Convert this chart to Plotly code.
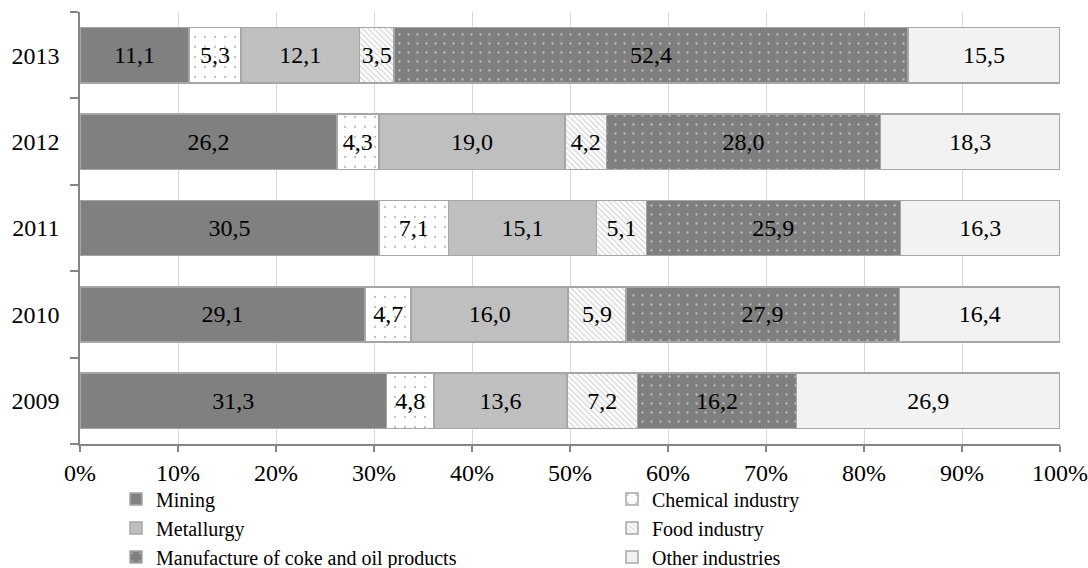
import plotly.graph_objects as go

years = ["2009", "2010", "2011", "2012", "2013"]
mining = [31.3, 29.1, 30.5, 26.2, 11.1]
chemical = [4.8, 4.7, 7.1, 4.3, 5.3]
metallurgy = [13.6, 16.0, 15.1, 19.0, 12.1]
food = [7.2, 5.9, 5.1, 4.2, 3.5]
coke = [16.2, 27.9, 25.9, 28.0, 52.4]
other = [26.9, 16.4, 16.3, 18.3, 15.5]

FONT = "Liberation Serif, Times New Roman, serif"
EDGE = "#a6a6a6"

# (name, values, marker, legend column)
series = [
    ("Mining", mining, dict(color="#808080"), "legend"),
    ("Chemical industry", chemical,
     dict(color="#ffffff", pattern=dict(shape=".", bgcolor="#ffffff", fgcolor="#7f7f7f",
                                        size=10, solidity=0.04, fillmode="overlay")), "legend2"),
    ("Metallurgy", metallurgy, dict(color="#bfbfbf"), "legend"),
    ("Food industry", food,
     dict(color="#ffffff", pattern=dict(shape="\\", bgcolor="#ffffff", fgcolor="#a6a6a6",
                                        size=4, solidity=0.3, fillmode="overlay")), "legend2"),
    ("Manufacture of coke and oil products", coke,
     dict(color="#7f7f7f", pattern=dict(shape=".", bgcolor="#7f7f7f", fgcolor="#ffffff",
                                        size=9, solidity=0.05, fillmode="overlay")), "legend"),
    ("Other industries", other, dict(color="#f2f2f2"), "legend2"),
]

fig = go.Figure()
for name, vals, mk, leg in series:
    mk = dict(mk)
    mk["line"] = dict(color=EDGE, width=1.5)
    fig.add_trace(go.Bar(
        name=name, y=years, x=vals, orientation="h",
        text=vals, texttemplate="%{text:.1f}",
        textposition="inside", insidetextanchor="middle", textangle=0,
        constraintext="none",
        textfont=dict(family=FONT, size=24, color="#000000"),
        marker=mk, legend=leg,
    ))

legend_common = dict(
    orientation="v", xref="container", yref="container",
    xanchor="left", yanchor="top", y=1 - 479.5 / 568,
    font=dict(family=FONT, size=20, color="#000000"),
    traceorder="normal", itemclick=False, bgcolor="rgba(0,0,0,0)",
)

fig.update_layout(
    barmode="stack", barnorm="percent", bargap=0.36,
    separators=", ",
    width=1088, height=568,
    margin=dict(l=80, r=28, t=12, b=124, autoexpand=False),
    paper_bgcolor="white", plot_bgcolor="white",
    font=dict(family=FONT, size=24, color="#000000"),
    legend=dict(legend_common, x=116 / 1088),
    legend2=dict(legend_common, x=612 / 1088),
    showlegend=True,
)
fig.update_xaxes(
    range=[0, 100], dtick=10, ticksuffix="%",
    showgrid=True, gridcolor="#d9d9d9", gridwidth=1.3,
    showline=True, linecolor="#868686", linewidth=1.5,
    ticks="outside", ticklen=6, tickcolor="#868686", tickwidth=1.5,
    zeroline=False, tickfont=dict(family=FONT, size=24),
)
fig.update_yaxes(
    type="category", showgrid=False,
    showline=True, linecolor="#868686", linewidth=1.5,
    ticks="outside", ticklen=8, tickcolor="#868686", tickwidth=1.5,
    tickson="boundaries", ticklabelstandoff=14,
    tickfont=dict(family=FONT, size=24),
)

fig.write_html("out.html")
